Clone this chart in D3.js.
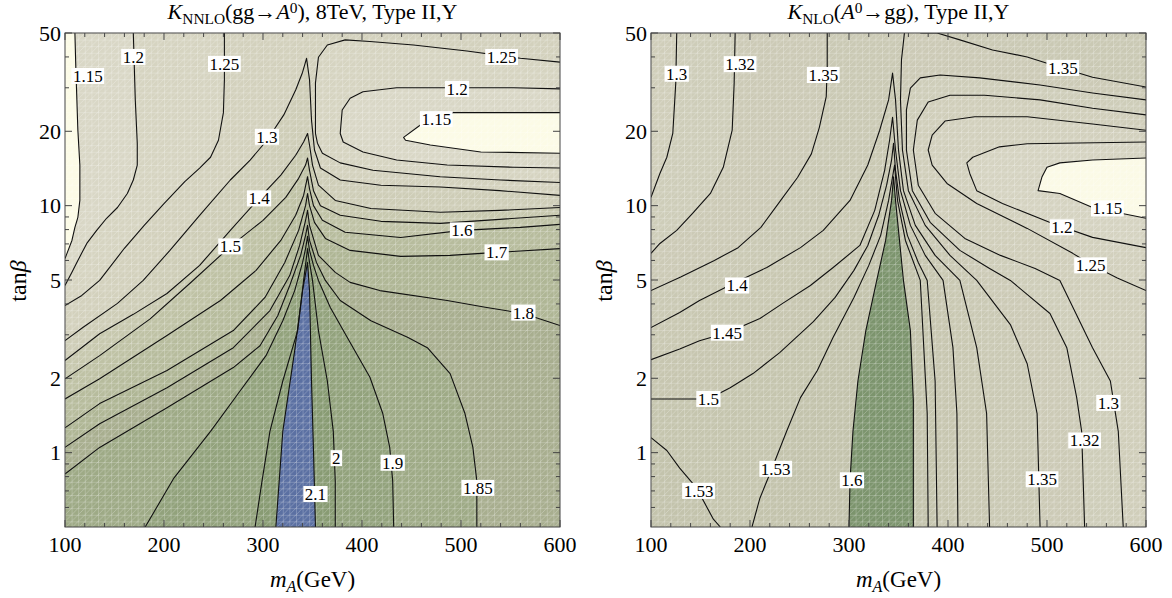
<!DOCTYPE html>
<html>
<head>
<meta charset="utf-8">
<script src="https://cdn.jsdelivr.net/npm/d3@7"></script>
<style>
  body { margin: 0; background: #fff; }
  text { font-family: "Liberation Serif", "Times New Roman", serif; fill: #000; }
</style>
</head>
<body>
<svg id="chart" width="1172" height="598"></svg>
<script>
// axis ticks
const xMajor = [100, 200, 300, 400, 500, 600];
const xMinor = [120, 140, 160, 180, 220, 240, 260, 280, 320, 340, 360, 380, 420, 440, 460, 480, 520, 540, 560, 580];
const yMajor = [1, 2, 5, 10, 20, 50];
const yMinor = [0.6, 0.7, 0.8, 0.9, 3, 4, 6, 7, 8, 9, 30, 40];

// ---- left panel: K_NNLO(gg->A0), contours as [mA, tanb] ----
const nnlo115a = [[110,50],[111,35.4],[113,20.2],[115,14.6],[115,10.5],[113,8.97],[110,8.17],[107,7.23],[102,6.41],[100,6.11]];
const nnlo120a = [[169,50],[171,26.8],[173,17.9],[173,14.6],[169,12.7],[163,11.2],[153,9.83],[142,8.89],[132,7.94],[122,7.03],[113,6.0],[107,5.37],[100,4.75]];
const nnlo125a = [[261,50],[261,32.3],[260,23.8],[255,18.4],[247,15.7],[236,14.2],[221,12.5],[200,10.2],[180,8.32],[160,6.72],[135,4.98],[117,4.33],[100,3.94]];
const nnlo125b = [[600,38.1],[560,39.5],[506,42.3],[452,44.7],[408,46.2],[383,46.9],[365,44.7],[356,39.9],[353,31.4],[353,19.6],[355,17.9],[360,16.3],[378,14.9],[411,13.9],[479,13.1],[540,12.7],[600,12.4]];
const nnlo120b = [[600,29.7],[553,30.0],[496,30.0],[435,30.0],[401,28.9],[388,27.2],[380,24.4],[378,19.6],[381,18.1],[401,16.5],[435,15.3],[486,14.6],[553,14.3],[600,14.2]];
const nnlo115b = [[600,23.8],[492,23.8],[459,21.2],[442,18.9],[444,18.4],[469,17.6],[520,16.5],[600,16.3]];
const nnlo130 = [[100,2.84],[118,3.21],[153,4.02],[179,4.98],[206,6.59],[236,9.14],[267,12.7],[287,15.3],[304,18.4],[321,23.3],[333,29.4],[340,34.7],[344,39.5],[347,32.3],[349,22.2],[352,16.8],[358,14.2],[378,12.7],[419,12.1],[479,11.9],[539,11.5],[600,11.0]];
const nnlo140 = [[100,2.36],[135,3.03],[169,3.63],[203,4.41],[236,5.73],[267,7.94],[296,10.7],[318,13.3],[333,16.0],[341,18.1],[345,19.6],[347,17.6],[350,14.6],[356,12.1],[373,10.5],[409,9.74],[479,9.4],[539,9.57],[600,9.83]];
const nnlo150 = [[100,1.99],[135,2.47],[186,3.48],[226,4.84],[267,6.84],[300,8.72],[323,10.8],[336,12.9],[343,14.6],[345,15.6],[347,13.9],[351,11.5],[358,10.0],[378,9.14],[419,8.64],[479,8.48],[539,8.80],[600,9.14]];
const nnlo160 = [[100,1.65],[135,1.99],[203,2.98],[257,4.13],[293,5.47],[318,7.23],[333,9.14],[341,11.0],[345,13.1],[347,11.7],[351,10.0],[360,8.72],[383,7.80],[439,7.43],[501,7.94],[560,8.17],[600,8.40]];
const nnlo170 = [[100,1.26],[135,1.58],[203,2.15],[270,3.12],[302,4.25],[322,5.89],[336,7.94],[343,10.0],[345,11.2],[347,10.0],[352,8.56],[363,7.37],[388,6.59],[439,6.23],[489,6.29],[536,6.47],[600,6.70]];
const nnlo180 = [[100,1.05],[135,1.31],[203,1.83],[270,2.66],[307,3.76],[327,5.21],[337,6.90],[343,8.72],[345,9.57],[347,8.32],[356,6.29],[373,5.37],[388,4.89],[418,4.53],[486,4.13],[526,3.87],[563,3.66],[600,3.27]];
const nnlo185 = [[100,0.819],[135,1.05],[203,1.52],[270,2.21],[297,2.71],[315,3.59],[327,4.75],[338,6.29],[343,7.58],[345,8.32],[347,7.23],[354,5.89],[363,4.98],[378,4.13],[409,3.42],[446,2.93],[466,2.66],[489,2.09],[504,1.44],[512,1.05],[516,0.767],[516,0.5]];
const nnlo190 = [[181,0.5],[210,0.789],[247,1.22],[277,1.78],[303,2.47],[320,3.42],[332,4.53],[340,5.89],[343,6.70],[345,7.51],[347,6.59],[351,5.73],[356,4.98],[368,3.87],[385,2.93],[408,2.02],[421,1.44],[428,1.05],[431,0.767],[432,0.5]];
const nnlo200 = [[292,0.5],[299,0.767],[307,1.22],[320,1.95],[335,3.12],[341,4.98],[345,6.70],[347,5.89],[350,4.98],[356,3.12],[365,1.95],[371,1.22],[373,0.767],[373,0.5]];
const nnlo210 = [[313,0.5],[320,1.22],[332,2.59],[340,4.53],[345,5.89],[347,4.53],[349,1.95],[351,1.02],[353,0.5]];
const nnloLabels = [[123,33.5,"1.15"],[169,40.0,"1.2"],[261,37.5,"1.25"],[304,19.0,"1.3"],[296,10.7,"1.4"],[267,6.84,"1.5"],
  [541,40.0,"1.25"],[496,29.7,"1.2"],[475,22.4,"1.15"],[501,7.94,"1.6"],[536,6.47,"1.7"],[563,3.69,"1.8"],
  [517,0.72,"1.85"],[431,0.91,"1.9"],[374,0.95,"2"],[353,0.68,"2.1"]];

// ---- right panel: K_NLO(A0->gg) ----
const nlo130a = [[126,50],[125,31.3],[122,19.6],[116,15.7],[109,13.5],[100,10.8]];
const nlo132a = [[185,50],[184,31.3],[182,20.2],[173,14.3],[160,11.2],[142,9.3],[126,7.94],[109,7.03],[100,6.41]];
const nlo135a = [[278,50],[278,36.4],[277,27.6],[270,20.7],[262,16.2],[248,13.0],[231,10.5],[211,8.17],[188,6.76],[164,6.0],[130,5.14],[100,4.53]];
const nlo135top = [[372,50],[389,50],[412,46.9],[445,42.7],[480,40.0],[516,36.0],[546,33.1],[600,30.2]];
const nlo135down = [[356,50],[353,38.9],[352,26.8],[354,16.8],[360,11.5],[377,8.32],[402,6.29],[429,4.98],[463,3.30],[480,2.29],[490,1.44],[493,0.5]];
const nlo132b = [[600,26.8],[546,28.6],[493,30.8],[432,32.9],[392,33.8],[372,32.9],[362,29.9],[358,24.4],[358,16.8],[364,11.5],[382,8.56],[412,6.59],[442,5.57],[463,4.98],[503,3.66],[520,2.66],[530,1.67],[535,1.22],[538,0.5]];
const nlo130b = [[600,23.3],[546,24.8],[493,26.8],[437,28.0],[402,28.0],[380,26.3],[369,22.2],[365,16.8],[370,12.1],[387,9.31],[417,7.37],[453,6.29],[488,5.57],[513,4.98],[546,2.66],[564,1.95],[572,1.22],[577,0.5]];
const nlo125 = [[600,20.2],[546,21.4],[480,22.9],[427,22.9],[397,22.0],[384,19.3],[380,16.8],[384,14.6],[399,12.3],[429,10.2],[480,8.09],[526,6.41],[546,5.73],[571,5.09],[600,4.53]];
const nlo120 = [[600,18.1],[480,17.8],[452,17.3],[425,15.7],[419,14.9],[422,13.5],[429,11.5],[455,10.2],[505,8.48],[546,7.44],[600,6.76]];
const nlo115 = [[600,15.6],[546,15.3],[513,14.9],[500,14.3],[495,13.1],[491,11.5],[513,11.2],[546,9.83],[600,8.89]];
const nlo140 = [[100,3.21],[129,3.69],[149,4.13],[183,4.84],[217,5.62],[251,6.76],[274,7.94],[301,10.5],[319,14.6],[331,20.2],[340,26.8],[344,34.4],[347,26.8],[350,16.8],[355,11.5],[367,8.32],[387,6.29],[412,4.98],[429,2.66],[439,1.44],[442,0.5]];
const nlo145 = [[100,2.38],[129,2.63],[149,2.84],[177,3.06],[210,3.49],[233,4.02],[261,4.75],[284,5.62],[311,6.9],[326,9.57],[336,13.9],[341,18.4],[344,22.8],[347,16.8],[352,11.5],[362,8.32],[377,6.29],[395,4.98],[405,2.66],[409,1.44],[410,0.5]];
const nlo150 = [[100,1.65],[129,1.65],[158,1.65],[180,1.83],[203,2.09],[230,2.54],[264,3.39],[286,4.25],[305,5.47],[319,6.9],[330,9.14],[338,12.1],[343,15.3],[345,17.9],[347,13.9],[351,10.5],[359,7.58],[370,5.89],[379,4.98],[387,1.95],[389,0.5]];
const nlo153 = [[202,0.5],[210,0.654],[222,0.859],[237,1.22],[251,1.67],[268,2.15],[284,2.93],[305,4.25],[320,5.73],[332,7.58],[340,10.5],[346,14.6],[349,10.5],[357,7.23],[372,4.98],[379,1.44],[380,0.5]];
const nlo153c = [[100,1.15],[116,1.02],[129,0.866],[146,0.72],[157,0.596],[163,0.538],[170,0.5]];
const nlo160 = [[300,0.5],[301,0.767],[304,1.22],[309,1.95],[317,3.12],[328,4.98],[337,7.23],[343,10.5],[345,13.1],[347,10.5],[350,7.94],[355,4.98],[362,3.12],[365,1.62],[365,0.5]];
const nloLabels = [[126,34.2,"1.3"],[190,37.4,"1.32"],[274,33.8,"1.35"],[187,4.75,"1.4"],[177,3.06,"1.45"],[158,1.65,"1.5"],
  [148,0.70,"1.53"],[226,0.86,"1.53"],[303,0.773,"1.6"],[516,36.1,"1.35"],[561,9.74,"1.15"],[515,8.17,"1.2"],
  [544,5.73,"1.25"],[562,1.59,"1.3"],[538,1.12,"1.32"],[495,0.78,"1.35"]];

// band colours
const nnloCol = {
  lt115: "#fcfbe6", b115: "#d9d7c6", b120: "#d6d4c1", b125: "#d3d1bd", b130: "#cecdb7",
  b140: "#c7c8ae", b150: "#bfc2a5", b160: "#b7bc9d", b170: "#afb695", b180: "#a8ae8f",
  b185: "#9eaa86", b190: "#92a27c", b200: "#889b73", gt210: "#5b70a2"
};
const nloCol = {
  lt115: "#fbfae6", b115: "#d5d3c1", b120: "#d2d0bd", b125: "#d0ceba", b130: "#cecdb9",
  b132: "#cccab6", b135: "#cac9b4", b140: "#c9c8b2", b145: "#c7c6b0", b150: "#c5c5ae",
  b153: "#c3c3ac", gt160: "#7c946d"
};

const svg = d3.select("#chart");
const plotW = 495, plotTop = 33, plotBot = 527;

const panels = [
  {
    id: "a", x0: 65,
    title: [["K", "i"], ["NNLO", "sub"], ["(gg\u2192", ""], ["A", "i"], ["0", "sup"], ["), 8TeV, Type II,Y", ""]],
    base: nnloCol.b125,
    fills: [
      [nnlo125a.concat([[100, 50]]), nnloCol.b120],
      [nnlo120a.concat([[100, 50]]), nnloCol.b115],
      [nnlo115a.concat([[100, 50]]), nnloCol.lt115],
      [nnlo125b, nnloCol.b120],
      [nnlo120b, nnloCol.b115],
      [nnlo115b, nnloCol.lt115],
      [nnlo130.concat([[600, 0.5], [100, 0.5]]), nnloCol.b130],
      [nnlo140.concat([[600, 0.5], [100, 0.5]]), nnloCol.b140],
      [nnlo150.concat([[600, 0.5], [100, 0.5]]), nnloCol.b150],
      [nnlo160.concat([[600, 0.5], [100, 0.5]]), nnloCol.b160],
      [nnlo170.concat([[600, 0.5], [100, 0.5]]), nnloCol.b170],
      [nnlo180.concat([[600, 0.5], [100, 0.5]]), nnloCol.b180],
      [nnlo185.concat([[100, 0.5]]), nnloCol.b185],
      [nnlo190, nnloCol.b190],
      [nnlo200, nnloCol.b200],
      [nnlo210, nnloCol.gt210]
    ],
    lines: [nnlo115a, nnlo120a, nnlo125a, nnlo125b, nnlo120b, nnlo115b, nnlo130, nnlo140, nnlo150,
      nnlo160, nnlo170, nnlo180, nnlo185, nnlo190, nnlo200, nnlo210],
    labels: nnloLabels
  },
  {
    id: "b", x0: 651,
    title: [["K", "i"], ["NLO", "sub"], ["(", ""], ["A", "i"], ["0", "sup"], ["\u2192gg), Type II,Y", ""]],
    base: nloCol.b132,
    fills: [
      [nlo132a.concat([[100, 50]]), nloCol.b130],
      [nlo132b.concat([[600, 0.5]]), nloCol.b130],
      [nlo130a.concat([[100, 50]]), nloCol.b125],
      [nlo130b.concat([[600, 0.5]]), nloCol.b125],
      [nlo125, nloCol.b120],
      [nlo120, nloCol.b115],
      [nlo115, nloCol.lt115],
      [nlo135a.concat([[100, 0.5]], nlo135down.slice().reverse()), nloCol.b135],
      [nlo135top.concat([[600, 50]]), nloCol.b135],
      [nlo140.concat([[100, 0.5]]), nloCol.b140],
      [nlo145.concat([[100, 0.5]]), nloCol.b145],
      [nlo150.concat([[100, 0.5]]), nloCol.b150],
      [nlo153, nloCol.b153],
      [nlo153c.concat([[100, 0.5]]), nloCol.b153],
      [nlo160, nloCol.gt160]
    ],
    lines: [nlo130a, nlo132a, nlo135a, nlo135top, nlo135down, nlo132b, nlo130b, nlo125, nlo120, nlo115,
      nlo140, nlo145, nlo150, nlo153, nlo153c, nlo160],
    labels: nloLabels
  }
];

// mesh texture like the rendered polygon seams
const defs = svg.append("defs");
panels.forEach(p => {
  const pat = defs.append("pattern").attr("id", "mesh" + p.id)
    .attr("patternUnits", "userSpaceOnUse").attr("width", 6.6).attr("height", 6.6)
    .attr("x", p.x0).attr("y", plotTop);
  pat.append("path").attr("d", "M0,0.3H6.6M0.3,0V6.6M0,6.6L6.6,0")
    .attr("stroke", "#fff").attr("stroke-opacity", 0.3).attr("stroke-width", 0.8).attr("fill", "none");
  defs.append("clipPath").attr("id", "clip" + p.id).append("rect")
    .attr("x", p.x0).attr("y", plotTop).attr("width", plotW).attr("height", plotBot - plotTop);
});

// writes a run of text pieces with italic / sub / sup parts
function richText(sel, parts, size) {
  let off = 0;
  parts.forEach(([s, st]) => {
    const ts = sel.append("tspan").text(s);
    let target = 0;
    if (st === "sub") { ts.style("font-size", (size * 0.7) + "px"); target = size * 0.22; }
    if (st === "sup") { ts.style("font-size", (size * 0.7) + "px"); target = -size * 0.28; }
    if (st === "i" || st === "isub") ts.style("font-style", "italic");
    if (st === "isub") { ts.style("font-size", (size * 0.7) + "px"); target = size * 0.22; }
    if (target !== off) ts.attr("dy", target - off);
    off = target;
  });
}

panels.forEach(p => {
  const x = d3.scaleLinear().domain([100, 600]).range([p.x0, p.x0 + plotW]);
  const y = d3.scaleLog().domain([0.5, 50]).range([plotBot, plotTop]);
  const line = d3.line().x(d => x(d[0])).y(d => y(d[1]));

  const plot = svg.append("g").attr("clip-path", `url(#clip${p.id})`);
  plot.append("rect").attr("x", p.x0).attr("y", plotTop).attr("width", plotW)
    .attr("height", plotBot - plotTop).attr("fill", p.base);

  p.fills.forEach(([pts, col]) => {
    plot.append("path").attr("d", line(pts) + "Z").attr("fill", col);
  });

  plot.append("rect").attr("x", p.x0).attr("y", plotTop).attr("width", plotW)
    .attr("height", plotBot - plotTop).attr("fill", `url(#mesh${p.id})`);

  p.lines.forEach(pts => {
    plot.append("path").attr("d", line(pts)).attr("fill", "none")
      .attr("stroke", "#111").attr("stroke-width", 1.1).attr("stroke-linejoin", "round");
  });

  // contour labels
  p.labels.forEach(([m, t, s]) => {
    const lg = svg.append("g").attr("transform", `translate(${x(m)},${y(t)})`);
    const txt = lg.append("text").attr("text-anchor", "middle").attr("dy", "0.35em")
      .style("font-size", "17px").text(s);
    const w = txt.node().getComputedTextLength();
    lg.insert("rect", "text").attr("x", -w / 2 - 1.5).attr("y", -8)
      .attr("width", w + 3).attr("height", 16).attr("fill", "#fff");
  });

  // frame and ticks on all four sides
  const ax = svg.append("g").attr("stroke", "#444").attr("stroke-width", 1);
  ax.append("rect").attr("x", p.x0).attr("y", plotTop).attr("width", plotW)
    .attr("height", plotBot - plotTop).attr("fill", "none");
  const tickX = (v, len) => {
    ax.append("line").attr("x1", x(v)).attr("x2", x(v)).attr("y1", plotBot).attr("y2", plotBot - len);
    ax.append("line").attr("x1", x(v)).attr("x2", x(v)).attr("y1", plotTop).attr("y2", plotTop + len);
  };
  const tickY = (v, len) => {
    ax.append("line").attr("y1", y(v)).attr("y2", y(v)).attr("x1", p.x0).attr("x2", p.x0 + len);
    ax.append("line").attr("y1", y(v)).attr("y2", y(v)).attr("x1", p.x0 + plotW).attr("x2", p.x0 + plotW - len);
  };
  xMajor.forEach(v => tickX(v, 7));
  xMinor.forEach(v => tickX(v, 4));
  yMajor.forEach(v => tickY(v, 7));
  yMinor.forEach(v => tickY(v, 4));

  xMajor.forEach(v => {
    svg.append("text").attr("x", x(v)).attr("y", 552).attr("text-anchor", "middle")
      .style("font-size", "22px").text(v);
  });
  yMajor.forEach(v => {
    svg.append("text").attr("x", p.x0 - 4).attr("y", y(v)).attr("dy", "0.35em")
      .attr("text-anchor", "end").style("font-size", "22px").text(v);
  });

  // titles and axis names
  const cx = p.x0 + plotW / 2;
  richText(svg.append("text").attr("x", cx).attr("y", 19).attr("text-anchor", "middle")
    .style("font-size", "22px"), p.title, 22);
  richText(svg.append("text").attr("x", cx).attr("y", 587).attr("text-anchor", "middle")
    .style("font-size", "23px"), [["m", "i"], ["A", "isub"], ["(GeV)", ""]], 23);
  richText(svg.append("text").attr("transform", `translate(${p.x0 - 39},281) rotate(-90)`)
    .attr("text-anchor", "middle").style("font-size", "24px"), [["tan", ""], ["\u03b2", "i"]], 24);
});
</script>
</body>
</html>
